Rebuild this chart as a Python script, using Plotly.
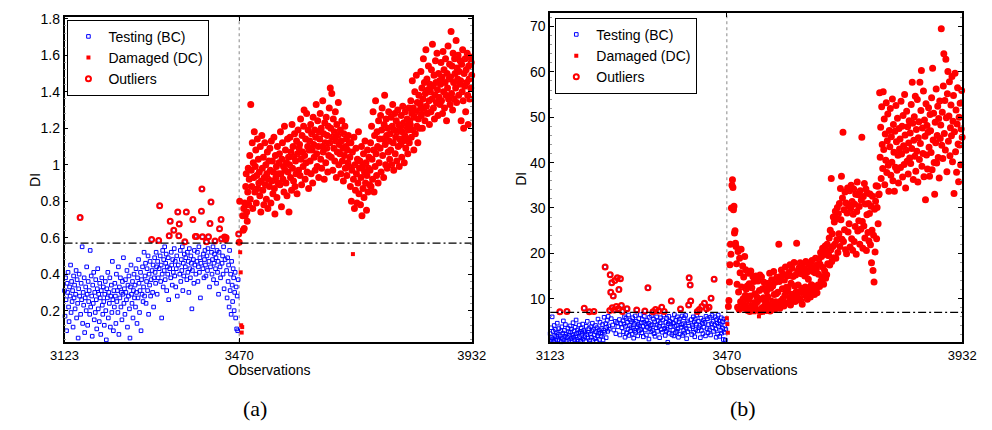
import plotly.graph_objects as go

# ---------------- data ----------------
x_ticks = [3123, 3470, 3932]
obs_start_bc = 3123
obs_start_dc = 3470
thr_a = 0.57
thr_b = 7.0

bc_a = [
    0.31, 0.17, 0.38, 0.26, 0.09, 0.35, 0.30, 0.41, 0.22, 0.14, 0.33, 0.28, 0.45, 0.19, 0.36, 0.25, 0.31, 0.11, 0.39, 0.27,
    0.34, 0.21, 0.29, 0.42, 0.16, 0.37, 0.24, 0.05, 0.32, 0.40, 0.28, 0.71, 0.18, 0.35, 0.26, 0.55, 0.13, 0.30, 0.23, 0.38,
    0.08, 0.27, 0.33, 0.20, 0.44, 0.29, 0.12, 0.36, 0.25, 0.31, 0.18, 0.53, 0.22, 0.39, 0.28, 0.06, 0.34, 0.24, 0.41, 0.15,
    0.30, 0.19, 0.37, 0.26, 0.10, 0.32, 0.43, 0.21, 0.29, 0.14, 0.35, 0.27, 0.07, 0.31, 0.38, 0.23, 0.18, 0.33, 0.25, 0.12,
    0.29, 0.36, 0.20, 0.04, 0.32, 0.27, 0.41, 0.16, 0.30, 0.24, 0.38, 0.11, 0.28, 0.34, 0.19, 0.47, 0.26, 0.09, 0.31, 0.22,
    0.35, 0.28, 0.13, 0.40, 0.25, 0.31, 0.19, 0.44, 0.07, 0.33, 0.27, 0.38, 0.22, 0.30, 0.15, 0.36, 0.29, 0.49, 0.24, 0.32,
    0.18, 0.37, 0.30, 0.26, 0.42, 0.11, 0.34, 0.28, 0.39, 0.21, 0.05, 0.33, 0.45, 0.29, 0.24, 0.36, 0.16, 0.31, 0.40, 0.27,
    0.34, 0.22, 0.43, 0.30, 0.13, 0.38, 0.27, 0.48, 0.35, 0.19, 0.31, 0.41, 0.09, 0.37, 0.29, 0.44, 0.25, 0.33, 0.52, 0.28,
    0.39, 0.46, 0.24, 0.36, 0.43, 0.31, 0.50, 0.18, 0.40, 0.34, 0.47, 0.28, 0.37, 0.59, 0.42, 0.30, 0.45, 0.22, 0.38, 0.49,
    0.41, 0.35, 0.52, 0.44, 0.29, 0.47, 0.38, 0.585, 0.43, 0.775, 0.50, 0.36, 0.45, 0.16, 0.40, 0.53, 0.33, 0.48, 0.42, 0.55,
    0.37, 0.46, 0.51, 0.31, 0.44, 0.40, 0.49, 0.26, 0.61, 0.43, 0.69, 0.38, 0.52, 0.45, 0.34, 0.48, 0.41, 0.64, 0.54, 0.39,
    0.47, 0.33, 0.43, 0.50, 0.28, 0.74, 0.45, 0.61, 0.675, 0.40, 0.53, 0.36, 0.48, 0.42, 0.55, 0.31, 0.46, 0.39, 0.51, 0.577,
    0.44, 0.49, 0.74, 0.37, 0.52, 0.41, 0.47, 0.30, 0.54, 0.43, 0.38, 0.50, 0.46, 0.21, 0.42, 0.70, 0.48, 0.35, 0.53, 0.45,
    0.607, 0.40, 0.607, 0.47, 0.52, 0.36, 0.44, 0.55, 0.41, 0.49, 0.27, 0.46, 0.745, 0.867, 0.605, 0.43, 0.51, 0.38, 0.48, 0.53,
    0.45, 0.39, 0.577, 0.50, 0.42, 0.54, 0.605, 0.47, 0.33, 0.677, 0.44, 0.795, 0.52, 0.40, 0.48, 0.55, 0.37, 0.46, 0.51, 0.582,
    0.43, 0.49, 0.35, 0.53, 0.41, 0.47, 0.29, 0.52, 0.649, 0.44, 0.38, 0.70, 0.593, 0.46, 0.50, 0.40, 0.55, 0.32, 0.604, 0.48,
    0.59, 0.60, 0.42, 0.27, 0.49, 0.36, 0.45, 0.22, 0.53, 0.31, 0.40, 0.18, 0.47, 0.34, 0.25, 0.43, 0.38, 0.20, 0.30, 0.41,
    0.16, 0.33, 0.10, 0.28, 0.09, 0.37, 0.62,
]

dc_a = [
    0.575, 0.80, 0.52, 0.41, 0.12, 0.08, 0.11, 0.72, 0.64, 0.76, 0.65, 0.79, 0.72, 0.88, 0.95, 0.74, 0.69, 0.85, 0.98, 0.78,
    0.92, 1.05, 0.81, 1.33, 0.97, 0.88, 1.12, 0.76, 1.01, 0.93, 1.18, 0.85, 0.99, 1.08, 0.79, 0.94, 1.14, 0.87, 1.03, 0.90,
    0.96, 0.83, 1.10, 0.74, 0.91, 1.16, 0.98, 0.86, 1.04, 0.78, 0.93, 1.12, 0.89, 1.00, 0.81, 0.95, 1.07, 0.76, 0.92, 1.02,
    0.88, 1.09, 0.97, 0.79, 1.13, 0.91, 1.02, 0.84, 0.96, 1.15, 0.87, 0.73, 1.05, 0.93, 0.99, 0.82, 1.10, 0.90, 0.95, 1.01,
    1.06, 0.89, 1.18, 0.95, 0.77, 1.03, 1.12, 0.92, 0.99, 0.85, 1.21, 0.97, 1.08, 0.90, 1.01, 0.83, 1.14, 0.96, 1.04, 0.74,
    1.00, 1.15, 0.93, 1.07, 0.86, 1.22, 0.98, 1.10, 0.91, 1.04, 1.17, 0.88, 1.02, 0.95, 1.13, 0.84, 1.06, 1.19, 0.97, 1.09,
    1.11, 0.94, 1.25, 1.03, 0.89, 1.16, 1.07, 0.99, 1.21, 1.30, 1.05, 0.92, 1.14, 1.01, 1.28, 0.96, 1.10, 1.19, 0.87, 1.08,
    1.13, 1.02, 1.22, 0.95, 1.17, 1.08, 0.90, 1.26, 1.11, 1.04, 1.19, 0.97, 1.15, 1.33, 1.06, 0.99, 1.24, 1.10, 0.93, 1.18,
    1.14, 1.28, 1.03, 1.20, 0.98, 1.10, 1.35, 1.07, 1.17, 0.92, 1.23, 1.12, 1.01, 1.26, 1.09, 1.16, 0.96, 1.21, 1.05, 1.31,
    1.12, 1.42, 1.20, 1.04, 1.39, 1.15, 0.97, 1.25, 1.09, 1.18, 1.02, 1.29, 1.13, 0.93, 1.22, 1.07, 1.16, 1.34, 1.00, 1.11,
    1.06, 1.19, 0.95, 1.13, 1.24, 1.02, 1.09, 0.91, 1.17, 1.05, 1.21, 0.98, 1.10, 1.14, 0.94, 1.08, 1.01, 1.16, 0.99, 1.12,
    1.04, 0.88, 1.12, 0.80, 0.97, 1.07, 0.51, 0.92, 1.15, 0.76, 1.00, 0.86, 1.09, 0.95, 0.79, 1.03, 0.90, 1.18, 0.84, 0.98,
    1.02, 0.78, 0.93, 1.10, 0.72, 0.99, 0.87, 1.06, 0.82, 0.96, 1.13, 0.90, 1.01, 0.75, 0.94, 1.08, 0.85, 0.98, 1.04, 0.89,
    0.97, 1.12, 0.88, 1.21, 1.03, 0.92, 1.29, 1.08, 0.85, 1.16, 0.99, 1.35, 1.06, 0.94, 1.18, 1.10, 0.90, 1.24, 1.01, 1.14,
    1.09, 1.27, 0.96, 1.19, 1.31, 1.05, 1.14, 0.93, 1.22, 1.38, 1.11, 1.00, 1.25, 1.16, 0.98, 1.20, 1.07, 1.29, 1.13, 1.03,
    1.17, 1.08, 1.26, 1.00, 1.21, 1.33, 1.12, 0.97, 1.19, 1.28, 1.06, 1.15, 1.24, 1.02, 1.18, 1.30, 1.10, 1.22, 0.99, 1.14,
    1.20, 1.11, 1.27, 1.04, 1.18, 1.32, 1.13, 1.23, 1.01, 1.16, 1.29, 1.09, 1.21, 1.14, 1.25, 1.06, 1.19, 1.31, 1.12, 1.24,
    1.22, 1.35, 1.15, 1.28, 1.46, 1.19, 1.31, 1.08, 1.26, 1.40, 1.17, 1.29, 1.49, 1.21, 1.34, 1.12, 1.25, 1.38, 1.20, 1.30,
    1.33, 1.51, 1.27, 1.42, 1.20, 1.36, 1.58, 1.30, 1.45, 1.24, 1.39, 1.63, 1.32, 1.47, 1.28, 1.41, 1.54, 1.35, 1.22, 1.44,
    1.40, 1.29, 1.52, 1.36, 1.66, 1.43, 1.31, 1.49, 1.25, 1.38, 1.57, 1.45, 1.34, 1.61, 1.41, 1.27, 1.50, 1.37, 1.46, 1.33,
    1.44, 1.56, 1.35, 1.48, 1.28, 1.62, 1.40, 1.52, 1.31, 1.45, 1.58, 1.38, 1.24, 1.50, 1.42, 1.65, 1.36, 1.47, 1.55, 1.33,
    1.48, 1.73, 1.39, 1.54, 1.30, 1.61, 1.45, 1.36, 1.58, 1.50, 1.42, 1.68, 1.34, 1.53, 1.47, 1.60, 1.38, 1.51, 1.44, 1.57,
    1.46, 1.24, 1.55, 1.40, 1.63, 1.35, 1.20, 1.50, 1.43, 1.58, 1.29, 1.52, 1.45, 1.61, 1.38, 1.22, 1.54, 1.47, 1.36, 1.59,
    1.42, 1.56, 1.49,
]

bc_b = [
    2.3, 0.9, 3.6, 1.4, 6.0, 1.1, 2.8, 0.6, 4.1, 1.9, 3.2, 0.8, 2.5, 1.6, 4.6, 1.0, 2.1, 3.4, 0.7, 7.1,
    1.8, 2.9, 0.5, 3.8, 1.3, 2.4, 5.1, 0.9, 3.0, 1.7, 4.3, 2.2, 0.6, 7.2, 1.5, 3.5, 2.7, 0.8, 1.9, 4.0,
    2.6, 1.2, 3.3, 0.7, 2.0, 4.7, 1.5, 2.9, 0.9, 3.7, 1.8, 5.3, 2.3, 1.0, 3.1, 0.6, 2.5, 4.2, 1.4, 2.8,
    0.8, 3.5, 1.9, 2.4, 4.4, 1.1, 3.0, 7.9, 1.6, 2.7, 0.7, 3.9, 2.1, 5.0, 1.3, 2.6, 3.4, 7.1, 0.9, 2.2,
    3.8, 1.5, 2.9, 4.6, 0.8, 3.2, 7.2, 2.0, 1.2, 4.1, 2.7, 0.6, 3.6, 1.8, 5.5, 2.4, 3.1, 1.0, 4.8, 2.5,
    1.7, 3.4, 2.2, 4.3, 0.9, 3.0, 5.9, 2.6, 17.0, 4.5, 1.4, 3.7, 5.2, 2.8, 6.1, 4.0, 3.3, 7.4, 15.3, 11.4,
    5.6, 13.5, 8.0, 4.2, 10.6, 3.1, 7.5, 14.0, 5.0, 2.3, 8.3, 4.7, 14.6, 3.8, 7.8, 12.0, 5.4, 2.0, 14.4, 4.5,
    8.5, 3.6, 7.2, 5.1, 2.7, 4.4, 6.0, 1.5, 3.9, 5.7, 2.4, 7.8, 4.8, 3.3, 6.4, 1.9, 4.1, 5.3, 2.9, 3.6,
    4.9, 2.2, 5.8, 3.5, 1.3, 4.6, 3.0, 6.2, 2.6, 5.0, 7.5, 3.8, 1.8, 4.3, 5.6, 2.9, 4.0, 6.5, 3.2, 4.7,
    2.5, 5.4, 3.9, 1.6, 4.8, 6.1, 7.3, 3.1, 4.4, 2.0, 5.2, 3.7, 12.4, 4.6, 1.1, 5.9, 3.4, 4.1, 2.7, 6.3,
    4.3, 3.0, 7.1, 5.5, 2.3, 4.9, 1.7, 7.6, 3.6, 6.0, 4.2, 2.8, 5.1, 7.3, 3.9, 1.4, 4.7, 5.8, 3.2, 8.1,
    2.6, 5.3, 4.0, 6.4, 7.2, 3.5, 1.9, 4.8, 2.9, 5.7, 3.3, 0.4, 4.5, 6.1, 2.4, 5.0, 3.8, 4.4, 9.5, 2.1,
    5.6, 3.1, 4.6, 1.8, 6.5, 3.9, 2.5, 5.2, 4.1, 2.8, 6.0, 3.4, 1.5, 4.9, 5.5, 2.2, 7.75, 3.7, 4.3, 6.2,
    1.9, 4.5, 3.0, 5.8, 2.4, 4.0, 6.3, 3.5, 1.2, 5.1, 2.7, 4.7, 8.6, 14.6, 3.3, 13.0, 9.5, 5.4, 2.1, 4.2,
    3.8, 6.0, 2.6, 4.9, 1.6, 5.5, 3.2, 4.4, 6.4, 7.2, 2.9, 5.0, 3.6, 7.6, 4.1, 1.4, 5.7, 3.0, 8.3, 4.6,
    2.3, 5.2, 3.7, 9.0, 4.8, 1.8, 6.1, 7.8, 3.4, 5.6, 2.5, 4.3, 8.1, 3.1, 5.9, 2.0, 10.1, 4.5, 6.3, 3.6,
    5.0, 2.8, 14.3, 4.2, 6.0, 3.3, 1.5, 5.4, 4.6, 2.2, 6.4, 3.9, 5.1, 1.7, 4.4, 3.0, 5.8, 2.4, 4.9, 3.5,
    1.0, 5.5, 2.6, 4.1, 0.9, 3.2, 5.2,
]

dc_b = [
    5.7, 4.4, 2.5, 8.3, 9.6, 13.7, 17.5, 22.0, 19.8, 30.0, 35.0, 36.2, 34.5, 29.6, 30.4, 24.5, 25.0, 22.2, 21.5, 17.7,
    13.2, 8.1, 20.4, 11.5, 7.6, 18.9, 15.7, 9.3, 20.9, 12.6, 8.4, 17.2, 10.0, 14.8, 7.9, 19.3, 10.7, 16.4, 12.1, 8.8,
    12.8, 7.4, 15.6, 9.9, 13.3, 7.2, 10.6, 16.1, 8.2, 12.4, 7.8, 14.9, 9.1, 13.8, 7.0, 11.1, 8.7, 15.0, 7.5, 10.4,
    9.3, 13.9, 7.5, 6.1, 11.8, 15.2, 7.1, 9.9, 14.8, 8.0, 12.2, 6.9, 10.2, 13.6, 8.4, 9.6, 12.5, 7.4, 11.7, 8.6,
    10.5, 7.8, 13.4, 8.6, 15.6, 7.3, 12.3, 9.5, 14.2, 8.2, 12.8, 7.9, 16.0, 10.9, 7.6, 13.6, 9.3, 11.1, 14.7, 8.8,
    11.4, 8.2, 22.0, 13.8, 7.9, 14.9, 9.5, 16.3, 8.7, 12.2, 10.0, 15.4, 8.4, 14.1, 10.8, 17.0, 9.0, 12.5, 11.7, 15.0,
    12.3, 9.1, 15.8, 10.2, 17.5, 8.6, 13.4, 11.0, 16.7, 9.7, 14.9, 10.5, 18.0, 12.8, 9.4, 15.2, 11.5, 22.2, 10.9, 16.1,
    13.0, 10.1, 16.8, 11.4, 17.9, 9.6, 15.5, 12.3, 8.8, 16.2, 11.7, 17.3, 10.8, 15.0, 12.6, 18.2, 11.1, 15.8, 9.9, 16.5,
    14.3, 11.6, 17.8, 12.5, 10.4, 16.9, 13.1, 18.4, 11.9, 16.0, 12.8, 17.2, 10.9, 15.7, 18.9, 12.2, 16.6, 11.3, 17.5, 13.0,
    15.4, 18.8, 12.7, 17.6, 20.2, 13.9, 19.3, 14.8, 21.1, 16.9, 13.2, 19.8, 16.1, 21.6, 14.5, 20.5, 15.3, 22.0, 17.7, 19.5,
    19.6, 23.4, 17.4, 25.1, 20.8, 36.5, 18.2, 24.3, 21.5, 28.0, 19.0, 26.9, 22.0, 29.3, 18.9, 27.6, 23.0, 30.1, 20.2, 28.7,
    24.3, 31.0, 21.5, 34.3, 27.4, 37.0, 23.1, 32.2, 46.7, 22.6, 29.6, 25.2, 33.5, 20.8, 31.1, 19.9, 28.9, 34.4, 24.7, 30.5,
    26.5, 33.8, 21.4, 29.9, 35.0, 23.2, 31.4, 20.7, 28.6, 34.2, 22.6, 30.8, 25.9, 33.0, 19.8, 29.2, 35.7, 24.9, 32.9, 27.2,
    30.3, 22.0, 33.8, 25.3, 31.7, 45.6, 27.0, 21.1, 32.5, 26.0, 35.4, 23.4, 30.9, 34.2, 20.6, 28.5, 33.3, 24.6, 31.0, 22.7,
    28.8, 33.1, 21.9, 30.4, 17.9, 25.1, 32.6, 16.2, 24.0, 13.7, 29.7, 20.3, 31.5, 34.9, 23.2, 30.1, 34.8, 26.5, 32.9, 33.1,
    55.4, 41.2, 47.8, 36.5, 52.3, 44.0, 38.7, 55.6, 42.9, 49.6, 35.1, 46.3, 40.5, 53.2, 37.8, 44.8, 50.7, 39.4, 33.7, 47.1,
    43.5, 51.9, 37.2, 45.7, 40.1, 54.0, 36.0, 48.4, 42.3, 33.7, 46.9, 39.0, 52.6, 44.6, 38.3, 49.8, 41.6, 35.5, 47.5, 43.0,
    45.2, 38.9, 53.5, 41.9, 48.0, 36.8, 50.4, 43.7, 39.6, 55.0, 46.1, 34.4, 42.7, 51.3, 40.3, 47.9, 37.5, 44.3, 49.2, 41.0,
    46.5, 39.8, 52.8, 43.1, 57.7, 48.7, 36.3, 44.9, 50.1, 41.4, 54.6, 38.1, 47.3, 42.5, 53.9, 35.7, 45.5, 49.0, 40.7, 57.7,
    44.2, 51.5, 60.3, 39.2, 47.6, 42.0, 55.8, 36.9, 49.4, 45.8, 31.8, 53.0, 41.7, 48.2, 38.6, 46.7, 52.1, 43.4, 37.0, 50.6,
    47.0, 42.2, 54.3, 38.4, 60.8, 45.0, 50.9, 40.0, 33.0, 48.9, 44.4, 56.2, 39.9, 46.0, 52.4, 41.1, 49.7, 36.6, 53.6, 45.3,
    48.3, 69.5, 43.8, 51.1, 40.9, 56.9, 64.0, 46.4, 53.7, 42.8, 62.8, 49.9, 38.0, 55.2, 60.1, 44.7, 50.3, 57.8, 41.5, 47.7,
    52.7, 45.9, 59.0, 40.2, 49.1, 54.8, 33.2, 46.8, 59.7, 42.4, 51.6, 37.9, 48.5, 56.5, 44.1, 35.8, 50.0, 43.9, 53.1, 39.5,
    47.4, 55.9, 45.6,
]

# ---------------- figure ----------------
W, H = 992, 430
FONT = "Liberation Sans, Arial, Helvetica, sans-serif"
BLUE = "#0000ff"
RED = "#ff0000"


def obs_bc(vals):
    return [obs_start_bc + i for i in range(len(vals))]


def obs_dc(vals):
    return [obs_start_dc + i for i in range(len(vals))]


fig = go.Figure()


def add_panel(bc, dc, thr, xa, ya, legend):
    xb, xd = obs_bc(bc), obs_dc(dc)
    fig.add_trace(go.Scatter(
        x=xb, y=bc, mode="markers", name="Testing (BC)", xaxis=xa, yaxis=ya, legend=legend,
        marker=dict(symbol="square-open", size=3.6, color=BLUE, line=dict(width=1, color=BLUE)),
        cliponaxis=False))
    fig.add_trace(go.Scatter(
        x=xd, y=dc, mode="markers", name="Damaged (DC)", xaxis=xa, yaxis=ya, legend=legend,
        marker=dict(symbol="square", size=4, color=RED, line=dict(width=0)),
        cliponaxis=False))
    ox = [x for x, y in zip(xb, bc) if y > thr] + [x for x, y in zip(xd, dc) if y > thr]
    oy = [y for y in bc if y > thr] + [y for y in dc if y > thr]
    fig.add_trace(go.Scatter(
        x=ox, y=oy, mode="markers", name="Outliers", xaxis=xa, yaxis=ya, legend=legend,
        marker=dict(symbol="circle-open", size=5, color=RED, line=dict(width=2, color=RED)),
        cliponaxis=False))


add_panel(bc_a, dc_a, thr_a, "x", "y", "legend")
add_panel(bc_b, dc_b, thr_b, "x2", "y2", "legend2")

axis_common = dict(showline=True, linecolor="black", linewidth=1.5, mirror="ticks",
                   ticks="inside", ticklen=4, tickcolor="black", showgrid=False,
                   zeroline=False, tickfont=dict(family=FONT, size=14, color="black"))

xcommon = dict(axis_common, tickvals=x_ticks, ticktext=[str(v) for v in x_ticks],
               range=[x_ticks[0], x_ticks[-1]], tickfont=dict(family=FONT, size=13, color="black"))

fig.update_layout(
    width=W, height=H,
    margin=dict(l=0, r=0, t=0, b=0),
    paper_bgcolor="white", plot_bgcolor="white",
    xaxis=dict(xcommon, domain=[52 / W, 471 / W], anchor="y"),
    yaxis=dict(axis_common, domain=[1 - 341 / H, 1 - 11 / H], anchor="x",
               range=[0.027, 1.81], dtick=0.2, tick0=0,
               minor=dict(ticks="inside", ticklen=2, tickcolor="#999", dtick=0.04)),
    xaxis2=dict(xcommon, domain=[551.7 / W, 975.7 / W], anchor="y2"),
    yaxis2=dict(axis_common, domain=[1 - 341 / H, 1 - 7 / H], anchor="x2",
                range=[0.4, 73], dtick=10, tick0=0,
                minor=dict(ticks="inside", ticklen=2, tickcolor="#999", dtick=2)),
    legend=dict(x=55 / W, y=1 - 14 / H, xanchor="left", yanchor="top",
                bordercolor="black", borderwidth=1, bgcolor="white",
                font=dict(family=FONT, size=14, color="black"), tracegroupgap=0),
    legend2=dict(x=557 / W, y=1 - 12 / H, xanchor="left", yanchor="top",
                 bordercolor="black", borderwidth=1, bgcolor="white",
                 font=dict(family=FONT, size=14, color="black"), tracegroupgap=0),
    showlegend=True,
)

# threshold (dash-dot) and split (dotted) lines
for xa, ya, thr in (("x", "y", thr_a), ("x2", "y2", thr_b)):
    fig.add_shape(type="line", xref=xa, yref=ya, x0=x_ticks[0], x1=x_ticks[-1], y0=thr, y1=thr,
                  line=dict(color="black", width=1.2, dash="8px,3px,2px,3px"))
    fig.add_shape(type="line", xref=xa, yref=ya + " domain", x0=x_ticks[1], x1=x_ticks[1], y0=0, y1=1,
                  line=dict(color="#888", width=1, dash="dot"), layer="below")

ann = []
for cx, sub in ((262, "(a)"), (764, "(b)")):
    ann.append(dict(x=cx / W, y=1 - 369 / H, xref="paper", yref="paper", text="Observations",
                    showarrow=False, font=dict(family=FONT, size=14, color="black"),
                    xanchor="center", yanchor="middle"))
    ann.append(dict(x=(cx - 14) / W, y=1 - 408 / H, xref="paper", yref="paper", text=sub,
                    showarrow=False, font=dict(family="Liberation Serif, DejaVu Serif, serif", size=22, color="black"),
                    xanchor="center", yanchor="middle"))
ann.append(dict(x=21 / W, y=1 - 176 / H, xref="paper", yref="paper", text="DI", textangle=-90,
                showarrow=False, font=dict(family=FONT, size=14, color="black"),
                xanchor="center", yanchor="middle"))
ann.append(dict(x=521 / W, y=1 - 175 / H, xref="paper", yref="paper", text="DI", textangle=-90,
                showarrow=False, font=dict(family=FONT, size=14, color="black"),
                xanchor="center", yanchor="middle"))
fig.update_layout(annotations=ann)

fig.write_html("out.html")
